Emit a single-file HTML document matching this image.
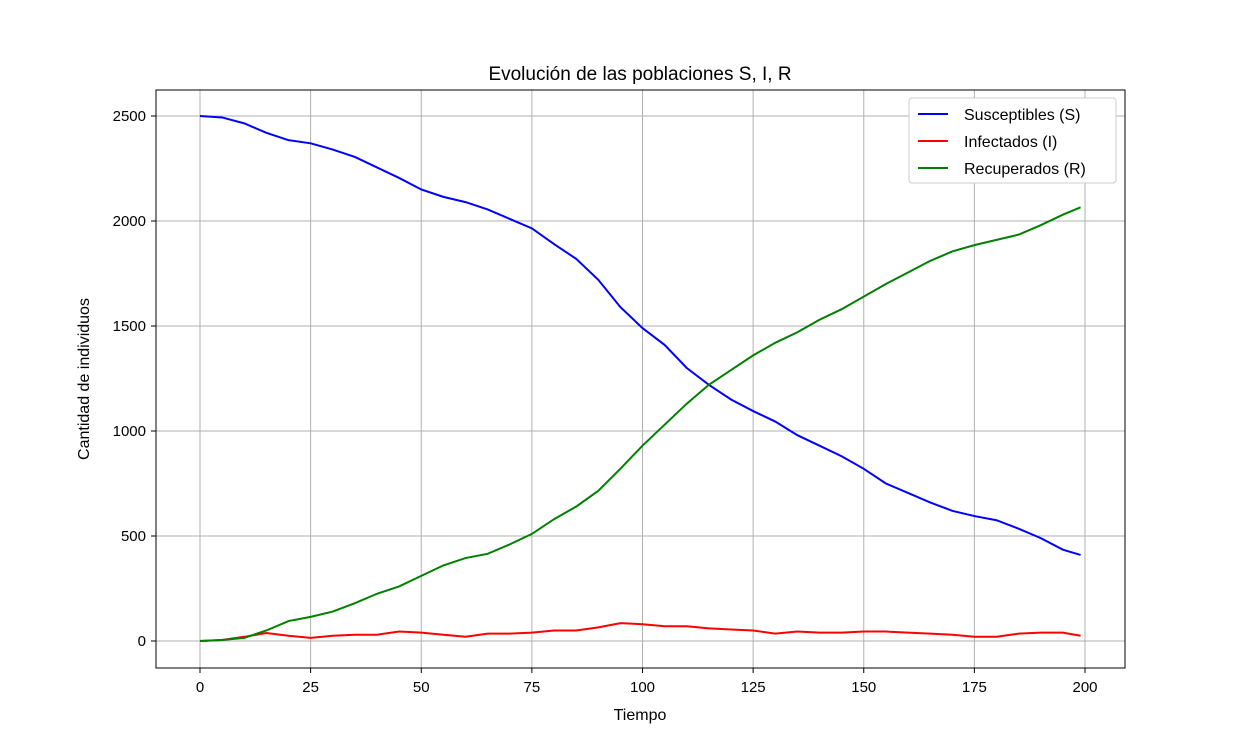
<!DOCTYPE html>
<html><head><meta charset="utf-8"><style>
body{margin:0;background:#fff;}
svg{font-family:"Liberation Sans","DejaVu Sans",sans-serif;}
</style></head><body>
<svg id="chart" width="1250" height="750" xmlns="http://www.w3.org/2000/svg">
<text x="640" y="80" font-size="19" text-anchor="middle">Evolución de las poblaciones S, I, R</text>
<text x="640" y="720" font-size="16" text-anchor="middle">Tiempo</text>
<text transform="translate(89,379) rotate(-90)" font-size="16" text-anchor="middle">Cantidad de individuos</text>
<g id="grid"></g><g id="series"></g><g id="ticks"></g>
<rect x="156" y="90" width="969" height="578" fill="none" stroke="#000" stroke-width="1"/>
<g>
<rect x="909" y="98" width="207" height="85" rx="3" fill="#fff" stroke="#ccc"/>
<g><line x1="918" y1="114" x2="948" y2="114" stroke="blue" stroke-width="2"/><text x="964" y="120" font-size="16">Susceptibles (S)</text></g>
<g><line x1="918" y1="141" x2="948" y2="141" stroke="red" stroke-width="2"/><text x="964" y="147" font-size="16">Infectados (I)</text></g>
<g><line x1="918" y1="168" x2="948" y2="168" stroke="green" stroke-width="2"/><text x="964" y="174" font-size="16">Recuperados (R)</text></g>
</g>
</svg>
<script>
const times=[0,5,10,15,20,25,30,35,40,45,50,55,60,65,70,75,80,85,90,95,100,105,110,115,120,125,130,135,140,145,150,155,160,165,170,175,180,185,190,195,199];
const susceptibles=[2500,2493,2465,2420,2385,2370,2340,2305,2255,2205,2150,2115,2090,2055,2010,1965,1890,1820,1720,1590,1490,1410,1300,1220,1150,1095,1045,980,930,880,820,750,705,660,620,595,575,535,490,435,410];
const infectados=[0,5,20,38,25,15,25,30,30,45,40,30,20,35,35,40,50,50,65,85,80,70,70,60,55,50,35,45,40,40,45,45,40,35,30,20,20,35,40,40,25];
const recuperados=[0,5,15,50,95,115,140,180,225,260,310,360,395,415,460,510,580,640,715,820,930,1030,1130,1220,1290,1360,1420,1470,1530,1580,1640,1700,1755,1810,1855,1885,1910,1935,1980,2030,2065];
const xTicks=[0,25,50,75,100,125,150,175,200];
const yTicks=[0,500,1000,1500,2000,2500];
const NS='http://www.w3.org/2000/svg';
const xs=v=>200+v*4.425, ys=v=>641-v*0.21;
const grid=document.getElementById('grid'),ticks=document.getElementById('ticks'),ser=document.getElementById('series');
function mk(tag,attrs,parent){const e=document.createElementNS(NS,tag);for(const k in attrs)e.setAttribute(k,attrs[k]);parent.appendChild(e);return e;}
xTicks.forEach(t=>{
  const g=mk('line',{x1:xs(t),x2:xs(t),y1:90,y2:668,stroke:'#b0b0b0','stroke-width':1},grid);
  
  
  mk('line',{x1:xs(t),x2:xs(t),y1:668,y2:673,stroke:'#000'},ticks);
  const l=mk('text',{x:xs(t),y:692,'font-size':15,'text-anchor':'middle'},ticks);l.textContent=t;
  
  
});
yTicks.forEach(t=>{
  const g=mk('line',{x1:156,x2:1125,y1:ys(t),y2:ys(t),stroke:'#b0b0b0','stroke-width':1},grid);
  
  
  mk('line',{x1:151,x2:156,y1:ys(t),y2:ys(t),stroke:'#000'},ticks);
  const l=mk('text',{x:146,y:ys(t)+5,'font-size':15,'text-anchor':'end'},ticks);l.textContent=t;
  
  
});
[[susceptibles,'blue','susceptibles-line'],[infectados,'red','infectados-line'],[recuperados,'green','recuperados-line']].forEach(([d,c,n])=>{
  const p=mk('polyline',{points:d.map((v,i)=>xs(times[i])+','+ys(v)).join(' '),fill:'none',stroke:c,'stroke-width':2},ser);
  
  
});
</script>
</body></html>
